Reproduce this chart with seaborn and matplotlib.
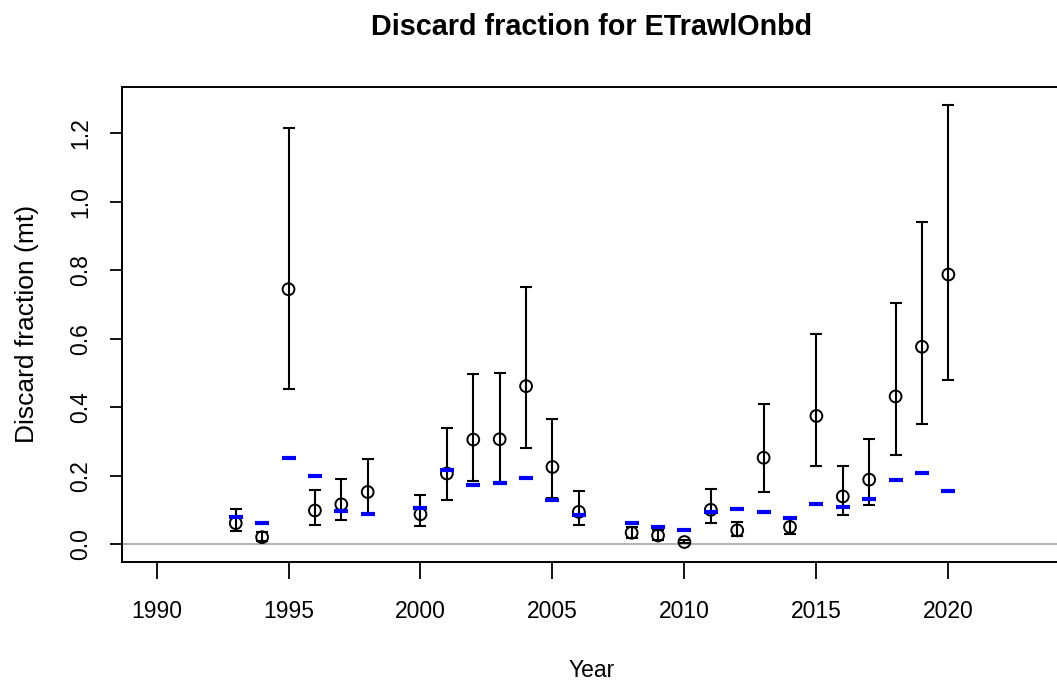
import numpy as np
import pandas as pd
import matplotlib
matplotlib.use("Agg")
import matplotlib.pyplot as plt
import seaborn as sns

# Observed discard fractions with their intervals, and the model's expected values
years = [1993, 1994, 1995, 1996, 1997, 1998, 2000, 2001, 2002, 2003, 2004, 2005, 2006,
         2008, 2009, 2010, 2011, 2012, 2013, 2014, 2015, 2016, 2017, 2018, 2019, 2020]
observed = [0.062, 0.021, 0.745, 0.099, 0.117, 0.153, 0.088, 0.207, 0.306, 0.307, 0.462,
            0.226, 0.095, 0.034, 0.026, 0.007, 0.101, 0.041, 0.253, 0.051, 0.375, 0.140,
            0.189, 0.432, 0.577, 0.788]
upper = [0.104, 0.036, 1.217, 0.160, 0.192, 0.248, 0.145, 0.340, 0.497, 0.499, 0.752,
         0.367, 0.155, 0.050, 0.041, 0.012, 0.163, 0.065, 0.411, 0.078, 0.614, 0.229,
         0.307, 0.705, 0.940, 1.283]
lower = [0.039, 0.009, 0.455, 0.058, 0.070, 0.090, 0.054, 0.129, 0.185, 0.182, 0.282,
         0.135, 0.056, 0.018, 0.012, 0.003, 0.062, 0.024, 0.153, 0.029, 0.228, 0.085,
         0.116, 0.260, 0.351, 0.481]
expected = [0.080, 0.062, 0.252, 0.199, 0.097, 0.090, 0.107, 0.218, 0.172, 0.180, 0.195,
            0.131, 0.087, 0.062, 0.051, 0.043, 0.094, 0.104, 0.096, 0.078, 0.119, 0.109,
            0.134, 0.189, 0.208, 0.155]

x_ticks = [1990, 1995, 2000, 2005, 2010, 2015, 2020]
y_ticks = [0.0, 0.2, 0.4, 0.6, 0.8, 1.0, 1.2]

df = pd.DataFrame({"Year": years, "Observed": observed, "Upper": upper,
                   "Lower": lower, "Expected": expected})

sns.set_theme(style="ticks")
plt.rcParams["font.family"] = ["Liberation Sans", "DejaVu Sans"]

W, H = 1057, 689
fig = plt.figure(figsize=(W / 100, H / 100), dpi=100)
fig.patch.set_facecolor("white")
left, right, top, bottom = 121.7, 1062.4, 86.7, 562.0
ax = fig.add_axes([left / W, 1 - bottom / H, (right - left) / W, (bottom - top) / H])
ax.set_facecolor("white")

# zero reference line
ax.axhline(0, color="#b5b5b5", lw=1.5, zorder=1)

# interval bars around observations
ax.errorbar(df["Year"], df["Observed"],
            yerr=[df["Observed"] - df["Lower"], df["Upper"] - df["Observed"]],
            fmt="none", ecolor="black", elinewidth=1.5, capsize=4.5, capthick=1.5,
            zorder=2)

# observed values: open circles
sns.scatterplot(data=df, x="Year", y="Observed", ax=ax, marker="o", s=72,
                color="none", edgecolor="black", linewidth=1.4, zorder=3)

# expected values: blue dashes
sns.scatterplot(data=df, x="Year", y="Expected", ax=ax, marker="_", s=90,
                color="#0000ff", linewidth=3.0, zorder=4)

ax.set_xlim(1988.68, 2024.32)
ax.set_ylim(-0.0514, 1.3364)
ax.set_xticks(x_ticks)
ax.set_xticklabels([str(v) for v in x_ticks])
ax.set_yticks(y_ticks)
ax.set_yticklabels([f"{v:.1f}" for v in y_ticks], rotation=90, va="center")

for s in ax.spines.values():
    s.set_visible(True)
    s.set_color("black")
    s.set_linewidth(1.4)

ax.tick_params(axis="x", length=12, width=1.3, pad=15, labelsize=16.5, color="black",
               labelcolor="black")
ax.tick_params(axis="y", length=8.4, width=1.3, pad=13, labelsize=16.5, color="black",
               labelcolor="black")

ax.set_xlabel("Year", fontsize=16.5, color="black")
ax.set_ylabel("Discard fraction (mt)", fontsize=19, color="black")
ax.xaxis.set_label_coords(0.5, -0.205)
ax.yaxis.set_label_coords(-0.088, 0.5)

fig.text(592 / W, 1 - 35 / H, "Discard fraction for ETrawlOnbd", ha="center",
         va="baseline", fontsize=20.7, fontweight="bold", color="black")

fig.savefig("out.png", dpi=100)
